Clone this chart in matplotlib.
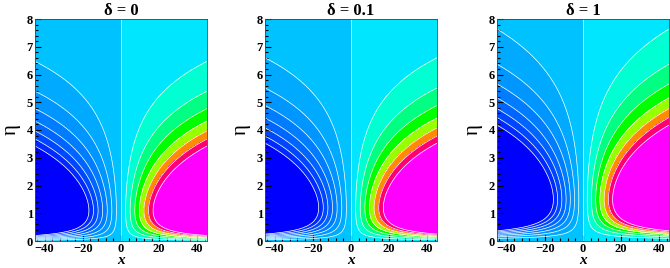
import numpy as np
import matplotlib
matplotlib.use("Agg")
import matplotlib.pyplot as plt
from matplotlib.colors import ListedColormap
from matplotlib.ticker import MultipleLocator

plt.rcParams["font.family"] = ["Liberation Serif", "DejaVu Serif"]

# panel titles
titles = ["δ = 0", "δ = 0.1", "δ = 1"]

# contour levels (7 on each side plus the zero line)
levels = np.arange(-7, 8)

# eta where contour levels 1..7 meet the side x = -45
edge_eta = [
    [6.50, 5.35, 4.75, 4.30, 4.00, 3.70, 3.45],
    [6.60, 5.53, 4.88, 4.40, 4.04, 3.80, 3.57],
    [7.63, 6.40, 5.65, 5.14, 4.76, 4.46, 4.19],
]
# tip ("nose") of the outermost level-7 contour: x position and eta
nose_x = [-17.0, -17.0, -15.5]
nose_eta = [1.1, 1.2, 1.5]
x_side = 45.0

# band colours, lowest (under) to highest (over)
band_colors = ["#0000ff", "#0028ff", "#0046ff", "#0064ff", "#007dff",
               "#0096ff", "#00aaff", "#00c2ff", "#00e6ff", "#00ffd2",
               "#00ff82", "#00ff00", "#96ff00", "#ff8c00", "#ff006e",
               "#ff00ff"]

cmap = ListedColormap(band_colors[1:-1])
cmap.set_under(band_colors[0])
cmap.set_over(band_colors[-1])


def eta_profile(edges, xn, en):
    # fit ln g = c + p ln(eta) - a eta - b eta^2 through the read contour positions
    rows, rhs = [], []
    for k, e in enumerate(edges, 1):
        rows.append([1, np.log(e), -e, -e ** 2])
        rhs.append(np.log(k / x_side))
    rows.append([1, np.log(en), -en, -en ** 2])
    rhs.append(np.log(7 / abs(xn)))
    w = 3.0
    rows.append([0, w / en, -w, -2 * w * en])
    rhs.append(0.0)
    coef = np.linalg.lstsq(np.array(rows), np.array(rhs), rcond=None)[0]
    return coef


x = np.linspace(-45, 45, 600)
eta = np.linspace(0.003, 8, 900)
X, E = np.meshgrid(x, eta)

fig = plt.figure(figsize=(6.7, 2.68), dpi=100)
lefts = [35 / 670, 265 / 670, 497 / 670]
for i in range(3):
    ax = fig.add_axes([lefts[i], 27 / 268, 172 / 670, 222 / 268])
    c, p, a, b = eta_profile(edge_eta[i], nose_x[i], nose_eta[i])
    g = np.exp(c + p * np.log(E) - a * E - b * E ** 2)
    F = X * g
    ax.contourf(X, E, F, levels=levels, cmap=cmap, extend="both")
    ax.contour(X, E, F, levels=levels, colors="white", linewidths=0.5,
               linestyles="solid")

    ax.set_xlim(-45, 45)
    ax.set_ylim(0, 8)
    ax.set_xticks([-40, -20, 0, 20, 40])
    ax.set_yticks(range(9))
    ax.xaxis.set_minor_locator(MultipleLocator(4))
    ax.yaxis.set_minor_locator(MultipleLocator(0.2))
    ax.tick_params(which="both", direction="in", top=False, right=False,
                   labelsize=9, pad=1.5, width=0.8)
    ax.tick_params(which="major", length=4)
    ax.tick_params(which="minor", length=2)
    for lab in ax.get_xticklabels() + ax.get_yticklabels():
        lab.set_fontweight("bold")
    for s in ax.spines.values():
        s.set_linewidth(0.6)
        s.set_color("#444444")

    ax.set_title(titles[i], fontsize=12, fontweight="bold", pad=3)
    ax.set_xlabel("x", fontsize=11, fontweight="bold", style="italic",
                  labelpad=-1)
    ax.set_ylabel("η", fontsize=15, labelpad=4)

fig.savefig("out.png", dpi=100)
